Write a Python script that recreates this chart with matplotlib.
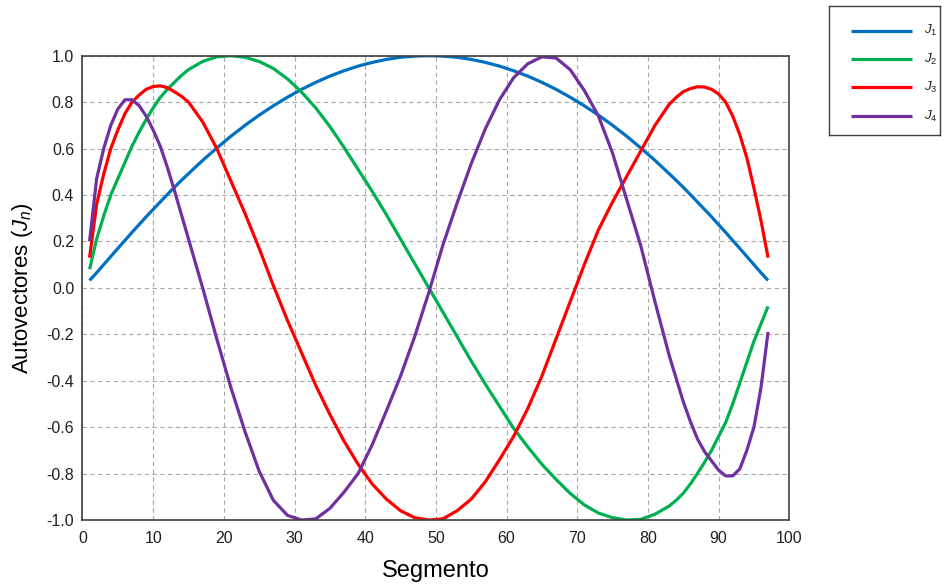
import matplotlib
matplotlib.use("Agg")
import matplotlib.pyplot as plt
from matplotlib.ticker import FixedLocator, FormatStrFormatter

plt.rcParams['font.family'] = ['Liberation Sans', 'DejaVu Sans']
plt.rcParams['mathtext.fontset'] = 'custom'
plt.rcParams['mathtext.rm'] = 'Liberation Sans'
plt.rcParams['mathtext.it'] = 'Liberation Sans:italic'
plt.rcParams['axes.unicode_minus'] = False

# Segment index: every segment near both ends, every other one in the middle
segmento = ([1, 2, 3, 4, 5, 6, 7, 8, 9, 10, 11, 12, 13, 14, 15]
            + [17, 19, 21, 23, 25, 27, 29, 31, 33, 35, 37, 39, 41, 43, 45, 47, 49,
               51, 53, 55, 57, 59, 61, 63, 65, 67, 69, 71, 73, 75, 77, 79, 81]
            + [83, 84, 85, 86, 87, 88, 89, 90, 91, 92, 93, 94, 95, 96, 97])

j1 = ([0.032, 0.065, 0.100, 0.135, 0.170, 0.204, 0.239, 0.272, 0.306, 0.338, 0.370, 0.402,
       0.433, 0.463, 0.492]
      + [0.549, 0.602, 0.653, 0.700, 0.744, 0.784, 0.821, 0.855, 0.885, 0.912, 0.935, 0.955,
         0.971, 0.984, 0.993, 0.998, 1.000,
         0.998, 0.993, 0.984, 0.971, 0.955, 0.935, 0.912, 0.885, 0.855, 0.821, 0.784, 0.744,
         0.700, 0.653, 0.602, 0.549]
      + [0.492, 0.463, 0.433, 0.402, 0.370, 0.338, 0.306, 0.272, 0.239, 0.204, 0.170, 0.135,
         0.100, 0.065, 0.032])

j2 = ([0.08, 0.21, 0.31, 0.40, 0.47, 0.54, 0.61, 0.67, 0.725, 0.775, 0.82, 0.855, 0.885,
       0.915, 0.94]
      + [0.975, 0.995, 1.0, 0.993, 0.975, 0.945, 0.90, 0.843, 0.775, 0.695, 0.605, 0.51,
         0.415, 0.315, 0.21, 0.105, 0.0,
         -0.105, -0.21, -0.315, -0.415, -0.51, -0.605, -0.685, -0.76, -0.825, -0.885, -0.935,
         -0.97, -0.99, -1.0, -0.997, -0.975]
      + [-0.94, -0.915, -0.885, -0.845, -0.80, -0.752, -0.70, -0.64, -0.58, -0.50, -0.41,
         -0.32, -0.23, -0.155, -0.08])

j3 = ([0.13, 0.36, 0.49, 0.60, 0.68, 0.75, 0.80, 0.83, 0.855, 0.867, 0.87, 0.862, 0.845,
       0.825, 0.80]
      + [0.715, 0.60, 0.46, 0.32, 0.17, 0.01, -0.14, -0.28, -0.42, -0.545, -0.66, -0.76,
         -0.845, -0.91, -0.96, -0.99, -1.0,
         -0.995, -0.96, -0.91, -0.835, -0.74, -0.64, -0.52, -0.38, -0.22, -0.06, 0.10, 0.25,
         0.37, 0.48, 0.59, 0.70]
      + [0.79, 0.82, 0.845, 0.858, 0.866, 0.865, 0.855, 0.835, 0.80, 0.74, 0.66, 0.56, 0.43,
         0.29, 0.13])

j4 = ([0.20, 0.47, 0.60, 0.70, 0.77, 0.81, 0.81, 0.785, 0.74, 0.68, 0.61, 0.52, 0.42,
       0.315, 0.21]
      + [0.0, -0.22, -0.43, -0.62, -0.79, -0.915, -0.98, -1.0, -0.995, -0.95, -0.88, -0.80,
         -0.675, -0.53, -0.38, -0.21, -0.02,
         0.185, 0.365, 0.535, 0.685, 0.81, 0.905, 0.965, 0.995, 0.99, 0.94, 0.85, 0.74, 0.58,
         0.38, 0.18, -0.06]
      + [-0.29, -0.39, -0.49, -0.575, -0.65, -0.705, -0.745, -0.785, -0.81, -0.81, -0.78,
         -0.70, -0.60, -0.43, -0.19])

series = [j1, j2, j3, j4]
labels = [r'$J_1$', r'$J_2$', r'$J_3$', r'$J_4$']
colors = ['#0070C0', '#00B050', '#FF0000', '#7030A0']
x_ticks = [0, 10, 20, 30, 40, 50, 60, 70, 80, 90, 100]
y_ticks = [-1.0, -0.8, -0.6, -0.4, -0.2, 0.0, 0.2, 0.4, 0.6, 0.8, 1.0]

fig = plt.figure(figsize=(9.45, 5.86), dpi=100)
ax = fig.add_axes([0.0873, 0.1126, 0.7479, 0.7924])

for vals, lab, col in zip(series, labels, colors):
    ax.plot(segmento, vals, color=col, linewidth=2.3, label=lab,
            solid_joinstyle='round', solid_capstyle='butt')

ax.set_xlim(0, 100)
ax.set_ylim(-1.0, 1.0)
ax.xaxis.set_major_locator(FixedLocator(x_ticks))
ax.yaxis.set_major_locator(FixedLocator(y_ticks))
ax.yaxis.set_major_formatter(FormatStrFormatter('%.1f'))
ax.tick_params(axis='x', length=0, labelsize=11.5, pad=8, colors='#202020')
ax.tick_params(axis='y', length=0, labelsize=11.5, pad=6, colors='#202020')
ax.grid(True, color='#a8a8a8', linestyle=(0, (4, 3)), linewidth=0.8)
ax.set_axisbelow(True)
for sp in ax.spines.values():
    sp.set_color('#404040')
    sp.set_linewidth(1.2)

ax.set_xlabel('Segmento', fontsize=17, labelpad=10)
ax.set_ylabel(r'Autovectores ($J_n$)', fontsize=16, labelpad=8)

# legend box drawn in its own small axes, outside the plot on the right
lax = fig.add_axes([0.8772, 0.7696, 0.1175, 0.2201])
lax.set_xlim(0, 1)
lax.set_ylim(0, 1)
lax.set_xticks([])
lax.set_yticks([])
for sp in lax.spines.values():
    sp.set_color('#404040')
    sp.set_linewidth(1.0)
rows_y = [0.8085, 0.5876, 0.3698, 0.147]
for yy, lab, col in zip(rows_y, labels, colors):
    lax.plot([0.198, 0.748], [yy, yy], color=col, linewidth=2.3, solid_capstyle='butt')
    lax.text(0.855, yy, lab, fontsize=9.5, va='center', ha='left', color='#202020')

fig.savefig('out.png', dpi=100)
